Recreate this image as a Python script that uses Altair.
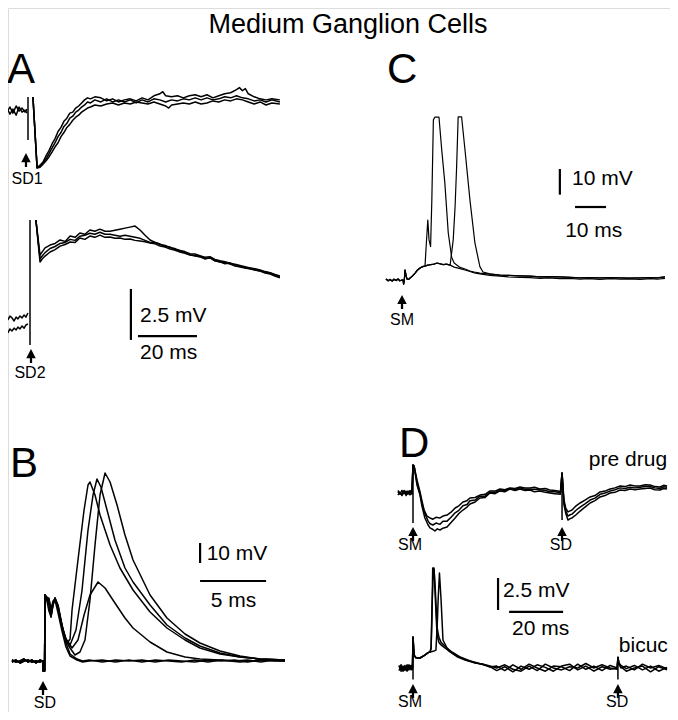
import altair as alt
import pandas as pd

FONT = "Liberation Sans"
TITLE = "Medium Ganglion Cells"

# ===================== traces: (time in ms, potential in mV) =====================
# ---- Panel A, upper recording (stimulus SD1)
A1_PRE_1 = [(-7.8,-0.3),(-6.8,-0.05),(-5.8,-0.35),(-4.7,0.0),(-3.7,-0.25),(-2.7,-0.1),(-1.7,-0.3),(-1.0,-0.15)]
A1_PRE_2 = [(-7.8,-0.1),(-6.8,-0.4),(-5.8,-0.15),(-4.7,-0.45),(-3.7,-0.05),(-2.7,-0.3),(-1.7,-0.2),(-1.0,-0.35)]
A1_ARTIFACT = [(-0.68,0.44),(-0.68,-1.67)]
A1_POST_1 = [(1.0,0.44),(2.4,-3.04),(3.4,-2.9),(4.4,-2.75),(5.4,-2.45),(6.4,-2.2),(7.5,-1.85),(8.5,-1.6),(9.5,-1.25),
             (10.5,-1.05),(11.5,-0.75),(12.5,-0.6),(13.5,-0.35),(14.5,-0.3),(15.5,-0.1),(16.5,0.0),(17.5,0.15),(18.5,0.3),
             (19.5,0.4),(20.5,0.35),(22,0.45),(24,0.4),(26,0.25),(28,0.35),(30,0.2),(32,0.3),(34,0.35),(36,0.25),(38,0.4),
             (40,0.3),(42,0.5),(44,0.6),(45,0.7),(46,0.5),(48,0.45),(50,0.5),(52,0.4),(54,0.5),(56,0.55),(58,0.45),(60,0.55),
             (62,0.4),(64,0.5),(66,0.6),(68,0.65),(70,0.8),(71,0.9),(72,0.75),(73,0.85),(74,0.6),(76,0.45),(78,0.35),(80,0.3),
             (82,0.35),(84.7,0.3)]
A1_POST_2 = [(1.0,0.44),(2.4,-3.04),(3.4,-3.0),(4.4,-2.85),(5.4,-2.7),(6.4,-2.5),(7.5,-2.25),(8.5,-2.0),(9.5,-1.8),
             (10.5,-1.5),(11.5,-1.3),(12.5,-1.05),(13.5,-0.9),(14.5,-0.7),(15.5,-0.55),(16.5,-0.45),(17.5,-0.3),(18.5,-0.2),
             (19.5,-0.1),(20.5,-0.05),(22,0.05),(24,0.0),(26,0.1),(28,0.15),(30,0.05),(32,0.15),(34,0.1),(36,0.2),(38,0.15),
             (40,0.1),(42,0.2),(44,0.1),(46,0.0),(47,-0.1),(48,0.05),(50,0.1),(52,0.15),(54,0.1),(56,0.2),(58,0.1),(60,0.15),
             (62,0.25),(64,0.2),(66,0.3),(68,0.25),(70,0.35),(72,0.3),(74,0.2),(76,0.1),(78,0.2),(80,0.05),(82,0.15),(84.7,0.1)]
A1_POST_3 = [(1.0,0.44),(2.4,-3.0),(3.4,-2.95),(4.4,-2.8),(5.4,-2.6),(6.4,-2.35),(7.5,-2.05),(8.5,-1.8),(9.5,-1.5),
             (10.5,-1.3),(11.5,-1.0),(12.5,-0.85),(13.5,-0.6),(14.5,-0.5),(15.5,-0.3),(16.5,-0.2),(17.5,-0.05),(18.5,0.05),
             (19.5,0.2),(20.5,0.15),(22,0.3),(24,0.2),(26,0.35),(28,0.2),(30,0.3),(32,0.2),(34,0.3),(36,0.15),(38,0.3),
             (40,0.2),(42,0.35),(44,0.3),(46,0.2),(48,0.3),(50,0.25),(52,0.35),(54,0.3),(56,0.4),(58,0.3),(60,0.4),(62,0.3),
             (64,0.35),(66,0.45),(68,0.4),(70,0.5),(72,0.4),(74,0.35),(76,0.25),(78,0.3),(80,0.2),(82,0.3),(84.7,0.2)]

# ---- Panel A, lower recording (stimulus SD2)
A2_PRE_1 = [(-7.5,0.15),(-6.8,0.34),(-6.1,0.25),(-5.4,0.1),(-4.7,0.29),(-4.1,0.2),(-3.4,0.34),(-2.7,0.25),(-2.0,0.39),(-1.4,0.29),(-0.7,0.49)]
A2_PRE_2 = [(-7.5,-0.49),(-6.8,-0.29),(-6.1,-0.39),(-5.4,-0.25),(-4.7,-0.34),(-4.1,-0.2),(-3.4,-0.29),(-2.7,-0.15),(-2.0,-0.25),(-1.4,-0.1),(-0.7,-0.05)]
A2_ARTIFACT = [(0.0,-1.08),(0.0,5.05)]
A2_POST_1 = [(2.0,5.05),(3.4,3.33),(4.2,3.5),(5.1,3.68),(6.8,3.82),(8.5,3.9),(10.2,4.07),(11.9,4.0),(13.6,4.26),(15.3,4.2),
             (16.9,4.41),(18.6,4.35),(20.3,4.56),(22,4.5),(23.7,4.6),(25.4,4.5),(27.1,4.5),(28.8,4.55),(30.5,4.6),(32.2,4.65),
             (33.9,4.7),(35.6,4.75),(37.3,4.56),(39,4.3),(40.7,4.07),(42.4,3.95),(44.1,3.87),(45.8,3.75),(47.5,3.72),(49,3.6),
             (50.8,3.55),(52.5,3.45),(54.2,3.35),(55.9,3.3),(57.6,3.28),(59.3,3.15),(61,3.2),(62.7,3.05),(64.4,3.0),(66.1,2.9),
             (67.8,2.95),(69.5,2.8),(71.2,2.8),(72.9,2.7),(74.6,2.7),(76.3,2.6),(78,2.55),(79.7,2.5),(81.4,2.45),(83,2.35),(84.7,2.25)]
A2_POST_2 = [(2.0,5.05),(3.4,2.99),(4.2,3.15),(5.1,3.28),(6.8,3.48),(8.5,3.6),(10.2,3.77),(11.9,3.85),(13.6,3.97),(15.3,3.95),
             (16.9,4.17),(18.6,4.1),(20.3,4.26),(22,4.2),(23.7,4.31),(25.4,4.2),(27.1,4.22),(28.8,4.15),(30.5,4.17),(32.2,4.1),
             (33.9,4.12),(35.6,4.05),(37.3,4.02),(39,3.98),(40.7,3.92),(42.4,3.88),(44.1,3.77),(45.8,3.72),(47.5,3.63),(49,3.58),
             (50.8,3.48),(52.5,3.42),(54.2,3.33),(55.9,3.3),(57.6,3.24),(59.3,3.15),(61,3.19),(62.7,3.05),(64.4,2.99),(66.1,2.95),
             (67.8,2.89),(69.5,2.8),(71.2,2.75),(72.9,2.7),(74.6,2.65),(76.3,2.6),(78,2.55),(79.7,2.45),(81.4,2.4),(83,2.3),(84.7,2.21)]
A2_POST_3 = [(2.0,5.05),(3.4,3.15),(4.2,3.3),(5.1,3.45),(6.8,3.65),(8.5,3.75),(10.2,3.9),(11.9,3.95),(13.6,4.1),(15.3,4.05),
             (16.9,4.25),(18.6,4.3),(20.3,4.4),(22,4.35),(23.7,4.45),(25.4,4.35),(27.1,4.35),(28.8,4.3),(30.5,4.25),(32.2,4.3),
             (33.9,4.25),(35.6,4.2),(37.3,4.15),(39,4.05),(40.7,3.95),(42.4,3.95),(44.1,3.85),(45.8,3.8),(47.5,3.7),(49,3.65),
             (50.8,3.55),(52.5,3.5),(54.2,3.4),(55.9,3.38),(57.6,3.3),(59.3,3.22),(61,3.25),(62.7,3.12),(64.4,3.05),(66.1,3.0),
             (67.8,2.93),(69.5,2.88),(71.2,2.82),(72.9,2.76),(74.6,2.7),(76.3,2.66),(78,2.6),(79.7,2.52),(81.4,2.46),(83,2.38),(84.7,2.3)]

# ---- Panel C (stimulus SM)
C_PRE = [(-5.5,0.4),(-4.8,-0.3),(-4.2,0.2),(-3.5,-0.4),(-2.9,0.3),(-2.2,-0.2),(-1.6,0.4),(-1.0,-0.3),(-0.3,0.0)]
C_STIM = [(0.0,0.0),(0.2,-1.6),(0.45,0.4),(0.65,3.9),(1.0,1.6),(1.3,0.4),(1.8,0.2)]
C_RISE = [(2.3,0.8),(3.1,1.6),(3.9,2.7),(4.7,3.9),(5.5,4.7),(6.3,5.2),(7.1,5.4)]
C_PEAK = [(8.0,5.8),(9.0,6.0),(10.0,6.2),(11.0,6.6),(12.0,6.3),(13.0,6.0),(14.0,6.2),(15.2,5.8)]
C_DECAY = [(16.5,5.4),(18.4,4.7),(20.0,4.3),(21.6,3.5),(23.0,3.1),(24.8,2.7),(28.0,2.3),(31.3,1.9),(34.0,1.8),(37.7,1.6),
           (41.0,1.5),(44.2,1.2),(47.0,1.3),(50.6,1.2),(54.0,1.0),(57.1,0.8),(60.0,0.9),(63.5,0.8),(67.0,0.9),(70.0,0.8),
           (73.0,0.7),(76.5,0.8),(80.0,0.9),(82.0,0.8),(84.5,1.2)]
C_DECAY_B = [(16.5,5.0),(18.4,4.4),(20.0,3.9),(21.6,3.3),(23.0,2.8),(24.8,2.4),(28.0,1.8),(31.3,1.5),(34.0,1.2),(37.7,1.0),
             (41.0,0.9),(44.2,0.6),(47.0,0.8),(50.6,0.5),(54.0,0.6),(57.1,0.3),(60.0,0.5),(63.5,0.2),(67.0,0.5),(70.0,0.3),
             (73.0,0.4),(76.5,0.2),(80.0,0.5),(82.0,0.3),(84.5,0.6)]
C_SPIKE_1 = [(7.4,11.7),(8.0,23.3),(8.4,15.6),(8.9,13.0),(9.3,31.0),(9.8,62.3),(10.3,63.4),(11.6,63.4),(12.5,50.6),
             (13.5,37.7),(14.6,18.3),(15.7,8.9),(16.5,6.6),(18.4,4.9)]
C_SPIKE_2 = [(16.2,15.6),(16.8,28.5),(17.3,44.1),(17.8,63.5),(18.9,63.5),(20.0,50.6),(21.6,31.1),(23.2,14.4),(24.8,5.2),
             (25.8,3.1),(28.0,2.4)]

# ---- Panel B (stimulus SD)
B_PRE_1 = [(-2.35,0.5),(-2.05,-0.5),(-1.74,0.0),(-1.44,1.0),(-1.14,-0.5),(-0.83,0.5),(-0.53,-1.0),(-0.23,0.5),(-0.08,0.0)]
B_PRE_2 = [(-2.35,-0.5),(-2.05,0.5),(-1.74,-1.0),(-1.44,0.0),(-1.14,0.5),(-0.83,-0.5),(-0.53,0.0),(-0.23,-0.5),(-0.08,0.0)]
B_STIM = [(0.0,0.0),(0.01,-5.0),(0.12,-5.0),(0.15,33.0)]
B_S1 = [(0.3,30.0),(0.45,25.0),(0.61,22.0),(0.76,28.0),(0.91,31.5),(1.14,28.0),(1.44,18.0),(1.74,10.5),(1.89,9.5),(2.05,11.0),
        (2.2,25.5),(2.65,50.5),(3.11,75.5),(3.41,88.0),(3.56,89.5),(3.94,83.0),(4.32,73.0),(5.08,58.0),(5.83,46.5),(6.82,35.5),
        (8.11,24.5),(9.39,16.5),(10.76,10.5),(11.89,6.5),(13.41,3.5),(14.92,2.0),(16.44,1.0),(18.33,0.5)]
B_S2 = [(0.3,31.0),(0.45,31.5),(0.61,24.0),(0.76,29.0),(0.91,31.5),(1.14,27.0),(1.44,17.0),(1.74,11.0),(2.05,8.0),(2.5,15.5),
        (2.95,35.0),(3.41,65.5),(3.79,83.0),(4.09,91.0),(4.39,87.0),(4.85,75.5),(5.45,60.5),(6.21,46.5),(6.82,39.5),(8.11,28.0),
        (9.39,18.0),(10.76,11.5),(11.89,7.5),(13.41,4.0),(14.92,2.0),(16.44,1.0),(18.33,0.5)]
B_S3 = [(0.3,30.5),(0.45,30.0),(0.61,23.0),(0.76,28.5),(0.91,31.0),(1.14,27.5),(1.44,17.5),(1.74,10.0),(2.05,6.5),(2.42,3.0),
        (2.8,4.5),(3.18,10.5),(3.56,30.5),(3.94,58.0),(4.32,83.0),(4.7,94.0),(5.08,89.5),(5.61,78.0),(6.21,63.0),(6.82,50.5),
        (8.11,33.0),(9.39,21.5),(10.76,13.5),(11.89,9.0),(13.41,5.0),(14.92,2.5),(16.44,1.0),(18.33,0.5)]
B_S4 = [(0.3,31.0),(0.45,28.0),(0.61,22.0),(0.76,28.0),(0.91,31.0),(1.14,27.0),(1.44,17.0),(1.74,11.0),(2.2,6.5),(2.65,10.5),
        (3.11,23.0),(3.56,33.0),(4.17,39.5),(4.7,36.5),(5.45,29.0),(6.21,21.5),(6.82,16.5),(8.11,9.5),(9.39,4.5),(10.76,2.0),
        (11.89,1.0),(13.41,0.5),(14.92,-0.5),(16.44,0.5),(18.33,0.0)]
B_S5 = [(0.3,31.5),(0.45,30.0),(0.61,24.0),(0.76,29.0),(0.91,31.5),(1.14,26.0),(1.44,18.0),(1.74,9.0),(2.05,3.5),(2.58,1.0),
        (3.0,0.0),(3.5,0.5),(4.5,-0.5),(5.5,0.5),(6.5,0.0),(7.5,0.5),(8.5,-0.5),(9.5,0.5),(10.5,0.0),(11.5,-0.5),(12.5,0.5),
        (13.5,0.0),(14.5,0.5),(15.5,-0.5),(16.5,0.5),(17.5,0.0),(18.33,0.0)]
B_S6 = [(0.3,32.0),(0.45,31.0),(0.61,26.0),(0.76,30.0),(0.91,30.5),(1.14,24.0),(1.44,15.0),(1.74,7.0),(2.05,2.5),(2.58,0.5),
        (3.0,-0.5),(3.5,0.0),(4.5,0.5),(5.5,-0.5),(6.5,0.5),(7.5,-0.5),(8.5,0.5),(9.5,0.0),(10.5,-0.5),(11.5,0.5),(12.5,-0.5),
        (13.5,0.5),(14.5,0.0),(15.5,0.5),(16.5,-0.5),(17.5,0.5),(18.33,0.0)]

# ---- Panel D, pre drug (stimuli SM then SD)
D1_PRE_1 = [(-5.6,0.1),(-4.8,-0.1),(-4.1,0.2),(-3.3,-0.05),(-2.6,0.15),(-1.9,-0.1),(-1.1,0.1),(-0.4,0.0)]
D1_PRE_2 = [(-5.6,-0.15),(-4.8,0.05),(-4.1,-0.2),(-3.3,0.1),(-2.6,-0.1),(-1.9,0.15),(-1.1,-0.15),(-0.4,0.05)]
D1_PRE_3 = [(-5.6,0.2),(-4.8,0.0),(-4.1,-0.1),(-3.3,0.2),(-2.6,-0.2),(-1.9,0.05),(-1.1,0.2),(-0.4,-0.1)]
D1_SM = [(0.0,2.19)]
D1_ARTIFACT_SM = [(0.0,2.19),(0.0,-2.34)]
D1_ARTIFACT_SD = [(55.2,1.56),(55.2,-2.11)]
D1_POST_1 = [(0.4,2.1),(1.5,1.0),(2.6,0.08),(3.3,-0.6),(4.1,-1.33),(5.2,-1.8),(6.3,-1.95),(7.4,-2.05),(8.5,-1.9),(10.0,-1.95),
             (11.1,-1.8),(12.6,-1.72),(14.1,-1.5),(15.6,-1.17),(17.0,-1.0),(18.5,-0.7),(20.0,-0.6),(21.1,-0.39),(23.0,-0.35),
             (24.8,-0.16),(26.7,-0.1),(28.5,0.16),(30.4,0.15),(32.2,0.31),(34.0,0.25),(35.9,0.39),(37.8,0.35),(39.6,0.47),
             (41.5,0.4),(43.3,0.39),(45.0,0.45),(47.0,0.31),(49.0,0.35),(50.7,0.23),(52.5,0.2),(53.7,0.16),(54.6,0.1),
             (55.2,1.56),(55.9,-0.55),(56.6,-1.2),(57.4,-1.48),(58.2,-1.4),(58.9,-1.33),(60.4,-1.0),(61.9,-0.78),(63.7,-0.55),
             (65.6,-0.31),(67.4,-0.2),(69.3,0.08),(71.1,0.15),(73.0,0.31),(74.8,0.4),(76.7,0.55),(78.5,0.5),(80.4,0.63),
             (82.2,0.55),(84.1,0.55),(86.0,0.65),(87.8,0.63),(89.6,0.5),(91.5,0.47),(92.8,0.6),(94.1,0.55)]
D1_POST_2 = [(0.4,2.1),(1.5,0.6),(2.6,-0.16),(3.3,-1.0),(4.4,-1.95),(5.6,-2.5),(6.3,-2.73),(7.4,-2.85),(8.1,-2.97),(9.0,-2.8),
             (10.0,-2.89),(11.1,-2.75),(12.6,-2.66),(14.1,-2.3),(15.6,-1.95),(17.0,-1.6),(18.5,-1.33),(20.0,-1.1),(21.1,-0.86),
             (23.0,-0.7),(24.8,-0.39),(26.7,-0.35),(28.5,0.0),(30.4,-0.05),(32.2,0.16),(34.0,0.1),(35.9,0.31),(37.8,0.2),
             (39.6,0.31),(41.5,0.2),(43.3,0.23),(45.0,0.1),(47.0,0.16),(49.0,0.05),(50.7,0.0),(52.5,-0.05),(53.7,-0.08),
             (54.6,-0.1),(55.2,1.56),(55.9,-0.9),(56.6,-1.6),(57.4,-2.11),(58.2,-2.0),(58.9,-1.95),(60.4,-1.7),(61.9,-1.41),
             (63.7,-1.1),(65.6,-0.78),(67.4,-0.6),(69.3,-0.31),(71.1,-0.2),(73.0,0.0),(74.8,0.05),(76.7,0.23),(78.5,0.2),
             (80.4,0.31),(82.2,0.25),(84.1,0.31),(86.0,0.35),(87.8,0.39),(89.6,0.25),(91.5,0.23),(92.8,0.35),(94.1,0.31)]
D1_POST_3 = [(0.4,2.1),(1.5,0.8),(2.6,-0.05),(3.3,-0.8),(4.4,-1.6),(5.6,-2.2),(6.3,-2.4),(7.4,-2.5),(8.5,-2.35),(10.0,-2.45),
             (11.1,-2.2),(12.6,-2.2),(14.1,-1.9),(15.6,-1.55),(17.0,-1.35),(18.5,-1.0),(20.0,-0.9),(21.1,-0.6),(23.0,-0.55),
             (24.8,-0.25),(26.7,-0.25),(28.5,0.05),(30.4,0.05),(32.2,0.25),(34.0,0.2),(35.9,0.35),(37.8,0.25),(39.6,0.4),
             (41.5,0.3),(43.3,0.3),(45.0,0.3),(47.0,0.25),(49.0,0.2),(50.7,0.1),(52.5,0.1),(53.7,0.05),(54.6,0.0),
             (55.2,1.56),(55.9,-0.7),(56.6,-1.4),(57.4,-1.8),(58.2,-1.7),(58.9,-1.65),(60.4,-1.35),(61.9,-1.1),(63.7,-0.85),
             (65.6,-0.55),(67.4,-0.4),(69.3,-0.1),(71.1,0.0),(73.0,0.15),(74.8,0.25),(76.7,0.4),(78.5,0.35),(80.4,0.45),
             (82.2,0.4),(84.1,0.45),(86.0,0.5),(87.8,0.5),(89.6,0.4),(91.5,0.35),(92.8,0.48),(94.1,0.45)]

# ---- Panel D, bicuculline (stimuli SM then SD)
D2_PRE_1 = [(-5.2,0.2),(-4.4,-0.25),(-3.7,0.15),(-3.0,-0.2),(-2.2,0.25),(-1.5,-0.15),(-0.7,0.2),(-0.2,0.0)]
D2_PRE_2 = [(-5.2,-0.2),(-4.4,0.15),(-3.7,-0.25),(-3.0,0.2),(-2.2,-0.15),(-1.5,0.25),(-0.7,-0.15),(-0.2,0.05)]
D2_PRE_3 = [(-5.2,0.05),(-4.4,0.25),(-3.7,-0.1),(-3.0,0.05),(-2.2,-0.25),(-1.5,0.05),(-0.7,0.2),(-0.2,-0.1)]
D2_SM = [(0.0,2.42),(0.4,1.0),(1.1,0.8),(2.6,0.78),(4.4,1.0),(5.6,1.2),(6.3,1.25)]
D2_ARTIFACT_SM = [(0.0,2.42),(0.0,-0.9)]
D2_ARTIFACT_SD = [(75.9,0.86),(75.9,-0.9)]
D2_SPIKE_1 = [(6.7,1.6),(7.0,3.75),(7.3,7.81),(7.8,7.81),(8.3,5.3),(8.9,2.6),(9.6,2.0),(10.4,1.8),(11.9,1.56),(13.7,1.25),
              (16.3,0.88),(19.3,0.63),(23.0,0.39),(25.9,0.3),(28.5,0.08)]
D2_SPIKE_2 = [(7.5,1.3),(8.5,1.4),(9.0,3.5),(9.3,5.3),(9.8,7.42),(10.4,5.31),(11.1,2.19),(12.6,1.56),(14.4,1.25),(17.4,0.86),
              (20.0,0.6),(23.0,0.45),(26.0,0.25),(28.5,0.1)]
D2_SPIKE_3 = [(6.7,1.5),(7.0,4.5),(7.4,6.88),(7.8,7.66),(8.3,6.0),(8.9,3.2),(9.6,2.4),(10.4,2.0),(11.9,1.7),(13.7,1.3),
              (16.3,0.95),(19.3,0.7),(23.0,0.4),(26.0,0.3),(28.5,0.15)]
D2_TAIL_1 = [(31,0.15),(34,-0.2),(37,0.25),(40,-0.1),(43,0.3),(46,0.0),(49,-0.25),(52,0.15),(55,0.1),(58,-0.2),(61,0.3),
             (64,-0.1),(67,0.15),(70,-0.2),(73,0.2),(75.6,0.0),(75.9,0.86),(76.3,0.4),(77,0.2),(79,-0.05),(82,0.2),(85,-0.15),
             (88,0.15),(91,-0.25),(94.1,0.05)]
D2_TAIL_2 = [(31,-0.2),(34,0.1),(37,-0.3),(40,0.15),(43,-0.1),(46,0.25),(49,0.05),(52,-0.25),(55,0.15),(58,0.3),(61,-0.15),
             (64,0.15),(67,-0.25),(70,0.1),(73,-0.1),(75.6,0.0),(75.9,0.8),(76.3,0.35),(77,0.1),(79,-0.25),(82,0.0),(85,0.15),
             (88,-0.3),(91,0.1),(94.1,-0.15)]
D2_TAIL_3 = [(31,0.0),(34,0.25),(37,-0.1),(40,-0.25),(43,0.15),(46,-0.2),(49,0.3),(52,0.0),(55,-0.15),(58,0.1),(61,0.0),
             (64,0.35),(67,0.0),(70,0.25),(73,0.0),(75.6,-0.1),(75.9,0.7),(76.3,0.3),(77,0.0),(79,0.15),(82,-0.15),(85,0.3),
             (88,0.0),(91,0.2),(94.1,-0.05)]

# sweeps of every panel
SWEEPS = {
    "A1": {"pre1": A1_PRE_1, "pre2": A1_PRE_2, "art": A1_ARTIFACT,
           "s1": A1_POST_1, "s2": A1_POST_2, "s3": A1_POST_3},
    "A2": {"pre1": A2_PRE_1, "pre2": A2_PRE_2, "art": A2_ARTIFACT,
           "s1": A2_POST_1, "s2": A2_POST_2, "s3": A2_POST_3},
    "C": {"s1": C_PRE + C_STIM + C_RISE + C_SPIKE_1 + C_DECAY[2:],
          "s2": C_PRE + C_STIM + C_RISE + C_PEAK + C_SPIKE_2 + C_DECAY[7:],
          "s3": C_PRE + C_STIM + C_RISE + C_PEAK + C_DECAY_B},
    "B": {"s1": B_PRE_1 + B_STIM + B_S1, "s2": B_PRE_2 + B_STIM + B_S2, "s3": B_PRE_1 + B_STIM + B_S3,
          "s4": B_PRE_2 + B_STIM + B_S4, "s5": B_PRE_1 + B_STIM + B_S5, "s6": B_PRE_2 + B_STIM + B_S6},
    "D1": {"s1": D1_PRE_1 + D1_SM + D1_POST_1, "s2": D1_PRE_2 + D1_SM + D1_POST_2,
           "s3": D1_PRE_3 + D1_SM + D1_POST_3, "art1": D1_ARTIFACT_SM, "art2": D1_ARTIFACT_SD},
    "D2": {"s1": D2_PRE_1 + D2_SM + D2_SPIKE_1 + D2_TAIL_1, "s2": D2_PRE_2 + D2_SM + D2_SPIKE_2 + D2_TAIL_2,
           "s3": D2_PRE_3 + D2_SM + D2_SPIKE_3 + D2_TAIL_3, "art1": D2_ARTIFACT_SM, "art2": D2_ARTIFACT_SD},
}

# scale bars: panel, t, v, t2, v2  (each bar is as long as its label says)
SCALE_BARS = [
    ("A2", 34.2, 1.67, 34.2, -0.83), ("A2", 36.6, -0.64, 56.6, -0.64),
    ("C", 50.6, 43.2, 50.6, 33.2), ("C", 55.5, 28.4, 65.5, 28.4),
    ("B", 11.9, 59.0, 11.9, 49.0), ("B", 11.9, 40.0, 16.9, 40.0),
    ("D2", 31.5, 7.03, 31.5, 4.53), ("D2", 35.6, 4.38, 55.6, 4.38),
]

# stimulus arrows: panel, t, v
ARROWS = [("A1", -1.36, -2.65), ("A2", 0.34, -1.62), ("C", -0.32, -8.56), ("B", 0.0, -13.5),
          ("D1", 0.0, -3.2), ("D1", 55.2, -3.2), ("D2", 0.0, -1.8), ("D2", 75.9, -1.8)]

# texts: panel, t, v, text, font size, alignment
LABELS = [
    ("A1", -7.8, 1.13, "A", 42, "left"), ("A1", -1.0, -3.82, "SD1", 16, "center"),
    ("A2", 0.0, -2.7, "SD2", 16, "center"), ("A2", 37.3, 0.05, "2.5 mV", 21, "left"), ("A2", 37.3, -1.76, "20 ms", 21, "left"),
    ("C", -5.16, 76.65, "C", 42, "left"), ("C", -0.32, -17.5, "SM", 16, "center"),
    ("C", 54.5, 37.0, "10 mV", 21, "left"), ("C", 52.3, 16.7, "10 ms", 21, "left"),
    ("B", -2.5, 92.0, "B", 42, "left"), ("B", 0.15, -23.5, "SD", 16, "center"),
    ("B", 12.4, 50.5, "10 mV", 21, "left"), ("B", 12.7, 27.0, "5 ms", 21, "left"),
    ("D1", -5.19, 2.81, "D", 42, "left"), ("D1", 94.1, 2.11, "pre drug", 21, "right"),
    ("D1", -1.1, -4.45, "SM", 16, "center"), ("D1", 54.8, -4.45, "SD", 16, "center"),
    ("D2", 94.4, 1.25, "bicuc", 21, "right"), ("D2", 33.3, 5.55, "2.5 mV", 21, "left"),
    ("D2", 36.7, 2.58, "20 ms", 21, "left"), ("D2", -1.1, -3.05, "SM", 16, "center"),
    ("D2", 75.6, -3.05, "SD", 16, "center"),
]

# ===================== layout (not data) =====================
W, H, MARGIN = 662, 704, 8
# page pixel of (t=0, v=0), pixels per ms, pixels per mV
PANELS = {
    "A1": (30, 106, 2.95, 20.4),
    "A2": (30, 323, 2.95, 20.4),
    "C": (403, 280, 3.1, 2.57),
    "B": (43, 661, 13.2, 2.0),
    "D1": (413, 493, 2.7, 12.8),
    "D2": (413, 668, 2.7, 12.8),
}
STROKE = {"A1": 1.5, "A2": 1.5, "C": 1.2, "B": 1.5, "D1": 1.5, "D2": 1.5}
ARROW_SHAPE = "M0,-1L0.68,0.3L0.16,0.3L0.16,1L-0.16,1L-0.16,0.3L-0.68,0.3Z"

rows = []
for p, sweeps in SWEEPS.items():
    for name, pts in sweeps.items():
        for i, (t, v) in enumerate(pts):
            rows.append({"panel": p, "sweep": name, "i": i, "t": t, "v": v})
lines_df = pd.DataFrame(rows)
bars_df = pd.DataFrame(SCALE_BARS, columns=["panel", "t", "v", "t2", "v2"])
arrows_df = pd.DataFrame(ARROWS, columns=["panel", "t", "v"])
labels_df = pd.DataFrame(LABELS, columns=["panel", "t", "v", "text", "fs", "anchor"])


def panel_chart(p):
    px, py, kx, ky = PANELS[p]
    x0, y0 = px - MARGIN, py - MARGIN
    xs = alt.Scale(domain=[-x0 / kx, (W - x0) / kx], nice=False, zero=False)
    ys = alt.Scale(domain=[-(H - y0) / ky, y0 / ky], nice=False, zero=False)
    X = alt.X("t:Q", scale=xs, axis=None)
    Y = alt.Y("v:Q", scale=ys, axis=None)
    layers = [
        alt.Chart(lines_df[lines_df["panel"] == p]).mark_line(
            color="black", strokeWidth=STROKE[p], strokeJoin="round"
        ).encode(x=X, y=Y, detail="sweep:N", order="i:Q")
    ]
    b = bars_df[bars_df["panel"] == p]
    if len(b):
        layers.append(alt.Chart(b).mark_rule(color="black", strokeWidth=2.2).encode(
            x=X, y=Y, x2="t2:Q", y2="v2:Q"))
    a = arrows_df[arrows_df["panel"] == p]
    if len(a):
        layers.append(alt.Chart(a).mark_point(
            shape=ARROW_SHAPE, filled=True, size=196, color="black", opacity=1, strokeWidth=0
        ).encode(x=X, y=Y))
    lab = labels_df[labels_df["panel"] == p]
    for al in ["left", "center", "right"]:
        sub = lab[lab["anchor"] == al]
        if len(sub):
            layers.append(alt.Chart(sub).mark_text(
                align=al, baseline="alphabetic", font=FONT, color="black"
            ).encode(x=X, y=Y, text="text:N", size=alt.Size("fs:Q", scale=None, legend=None)))
    return alt.layer(*layers)


title_layer = alt.Chart(pd.DataFrame({"label": [TITLE]})).mark_text(
    font=FONT, fontSize=27, align="center", baseline="alphabetic", color="black"
).encode(text="label:N", x=alt.value(340), y=alt.value(24.5))

chart = alt.layer(title_layer, *[panel_chart(p) for p in PANELS]).resolve_scale(
    x="independent", y="independent"
).properties(
    width=W, height=H, autosize="none", padding=0,
).configure_view(stroke=None, strokeWidth=0).configure(background="white")

chart.save("out.html", embed_options={"renderer": "svg", "actions": False})
